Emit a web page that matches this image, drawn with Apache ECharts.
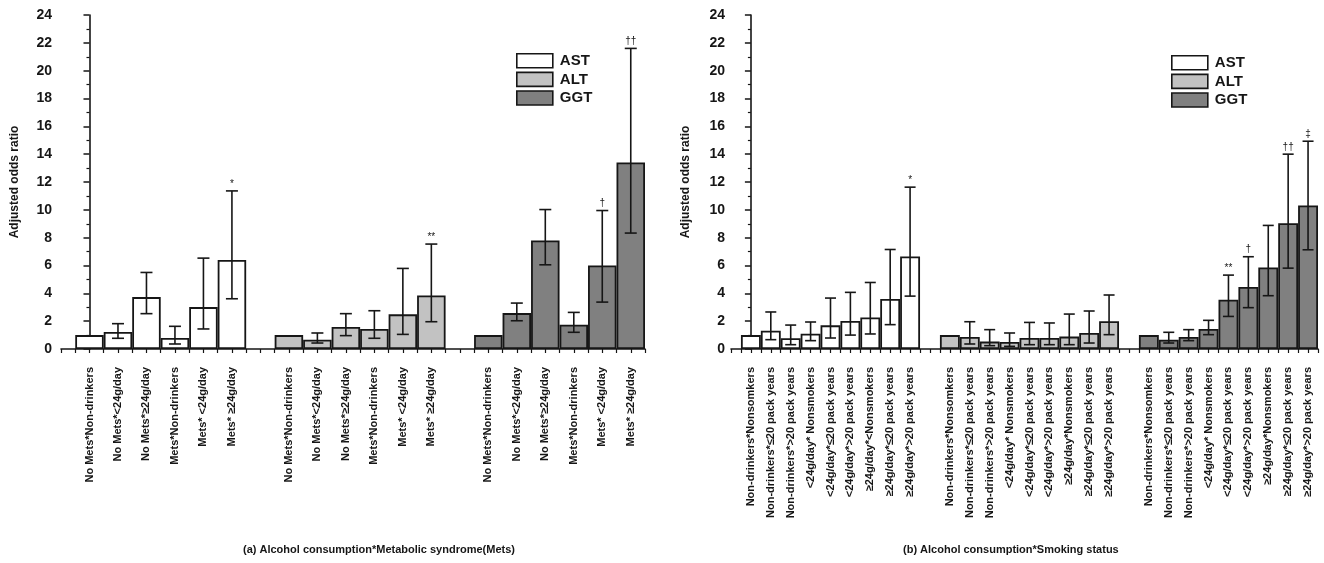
<!DOCTYPE html>
<html>
<head>
<meta charset="utf-8">
<script src="https://cdn.jsdelivr.net/npm/echarts@6/dist/echarts.min.js"></script>
<style>
html,body{margin:0;padding:0;background:#fff;}
#chart{width:1324px;height:563px;}
</style>
</head>
<body>
<div id="chart"></div>
<script>
// ---------- (a) Alcohol consumption * Metabolic syndrome ----------
const catsA = ['No Mets*Non-drinkers', 'No Mets*<24g/day', 'No Mets*\u226524g/day', 'Mets*Non-drinkers', 'Mets* <24g/day', 'Mets* \u226524g/day'];
const astA = [1.0, 1.22, 3.73, 0.79, 3.01, 6.39];
const astA_lo = [null, 0.77, 2.54, 0.36, 1.44, 3.61];
const astA_hi = [null, 1.82, 5.50, 1.63, 6.53, 11.36];
const astA_sig = ['', '', '', '', '', '*'];
const altA = [1.0, 0.67, 1.58, 1.44, 2.49, 3.85];
const altA_lo = [null, 0.43, 0.96, 0.77, 1.05, 1.96];
const altA_hi = [null, 1.15, 2.54, 2.75, 5.79, 7.54];
const altA_sig = ['', '', '', '', '', '**'];
const ggtA = [1.0, 2.58, 7.80, 1.75, 6.00, 13.40];
const ggtA_lo = [null, 2.03, 6.05, 1.20, 3.37, 8.33];
const ggtA_hi = [null, 3.30, 10.02, 2.63, 9.95, 21.60];
const ggtA_sig = ['', '', '', '', '\u2020', '\u2020\u2020'];

// ---------- (b) Alcohol consumption * Smoking status ----------
const catsB_AST = ['Non-drinkers*Nonsomkers', 'Non-drinkers*\u226420 pack years', 'Non-drinkers*>20 pack years', '<24g/day* Nonsmokers', '<24g/day*\u226420 pack years', '<24g/day*>20 pack years', '\u226524g/day*<Nonsmokers', '\u226524g/day*\u226420 pack years', '\u226524g/day*>20 pack years'];
const catsB = ['Non-drinkers*Nonsomkers', 'Non-drinkers*\u226420 pack years', 'Non-drinkers*>20 pack years', '<24g/day* Nonsmokers', '<24g/day*\u226420 pack years', '<24g/day*>20 pack years', '\u226524g/day*Nonsmokers', '\u226524g/day*\u226420 pack years', '\u226524g/day*>20 pack years'];
const astB = [1.0, 1.32, 0.77, 1.10, 1.70, 2.01, 2.27, 3.59, 6.65];
const astB_lo = [null, 0.67, 0.31, 0.60, 0.79, 1.00, 1.08, 1.75, 3.80];
const astB_hi = [null, 2.66, 1.72, 1.94, 3.66, 4.07, 4.78, 7.15, 11.63];
const astB_sig = ['', '', '', '', '', '', '', '', '*'];
const altB = [1.0, 0.86, 0.53, 0.50, 0.79, 0.79, 0.89, 1.15, 1.99];
const altB_lo = [null, 0.36, 0.24, 0.19, 0.31, 0.31, 0.31, 0.43, 1.03];
const altB_hi = [null, 1.96, 1.39, 1.15, 1.91, 1.87, 2.51, 2.73, 3.88];
const altB_sig = ['', '', '', '', '', '', '', '', ''];
const ggtB = [1.0, 0.67, 0.86, 1.44, 3.54, 4.45, 5.86, 9.04, 10.31];
const ggtB_lo = [null, 0.43, 0.60, 1.03, 2.34, 2.97, 3.83, 5.81, 7.13];
const ggtB_hi = [null, 1.20, 1.39, 2.06, 5.31, 6.63, 8.88, 14.00, 14.93];
const ggtB_sig = ['', '', '', '', '**', '\u2020', '', '\u2020\u2020', '\u2021'];

const yTicks = [0, 2, 4, 6, 8, 10, 12, 14, 16, 18, 20, 22, 24];

// ---------- layout ----------
const W = 1324, H = 563;
const gridA = {left: 61, right: W - 645, top: 15, bottom: H - 349};
const gridB = {left: 731, right: W - 1318, top: 15, bottom: H - 349};
const nA = astA.length, nB = astB.length;
const maxA = 3 * nA + 2 - 0.5;
const maxB = 3 * nB + 2 - 0.5;
const slotA = (645 - 61) / (maxA + 1);
const slotB = (1318 - 731) / (maxB + 1);

const FONT = '"Liberation Sans", Arial, Helvetica, sans-serif';
const INK = '#161616';
const colors = {AST: '#ffffff', ALT: '#c2c2c2', GGT: '#808080'};

function positions(n, g) { return Array.from({length: n}, (_, i) => g * (n + 1) + i); }

function labelMap(groups) {
  const m = {};
  groups.forEach((cats, g) => cats.forEach((c, i) => { m[g * (cats.length + 1) + i] = c; }));
  return m;
}
const mapA = labelMap([catsA, catsA, catsA]);
const mapB = labelMap([catsB_AST, catsB, catsB]);

function barData(vals, n, g) {
  const xs = positions(n, g);
  return vals.map((v, i) => [xs[i], v]);
}
function errList(lo, hi, sig, n, g) {
  const xs = positions(n, g);
  const out = [];
  lo.forEach((l, i) => { if (l !== null) out.push({x: xs[i], lo: l, hi: hi[i], sig: sig[i]}); });
  return out;
}

const errA = [].concat(errList(astA_lo, astA_hi, astA_sig, nA, 0), errList(altA_lo, altA_hi, altA_sig, nA, 1), errList(ggtA_lo, ggtA_hi, ggtA_sig, nA, 2));
const errB = [].concat(errList(astB_lo, astB_hi, astB_sig, nB, 0), errList(altB_lo, altB_hi, altB_sig, nB, 1), errList(ggtB_lo, ggtB_hi, ggtB_sig, nB, 2));

function errRenderer(list, capHalf) {
  return function (params, api) {
    const d = list[params.dataIndex];
    const top = api.coord([d.x, d.hi]);
    const bot = api.coord([d.x, d.lo]);
    const st = {stroke: INK, lineWidth: 1.6};
    const children = [
      {type: 'line', shape: {x1: top[0], y1: top[1], x2: bot[0], y2: bot[1]}, style: st},
      {type: 'line', shape: {x1: top[0] - capHalf, y1: top[1], x2: top[0] + capHalf, y2: top[1]}, style: st},
      {type: 'line', shape: {x1: bot[0] - capHalf, y1: bot[1], x2: bot[0] + capHalf, y2: bot[1]}, style: st}
    ];
    if (d.sig) {
      children.push({type: 'text', x: top[0], y: top[1] - 2,
        style: {text: d.sig, fill: INK, font: '10px ' + FONT, textAlign: 'center', textVerticalAlign: 'bottom'}});
    }
    return {type: 'group', children: children};
  };
}

function xAxis(gi, max, map) {
  return {
    type: 'value', gridIndex: gi, min: -1, max: max, interval: 0.5,
    splitLine: {show: false},
    axisLine: {lineStyle: {color: INK, width: 1.6}},
    axisTick: {length: 4, lineStyle: {color: INK, width: 1.2}},
    axisLabel: {
      rotate: 90, margin: 18, color: INK, fontSize: 11, fontWeight: 'bold', fontFamily: FONT,
      showMinLabel: true, showMaxLabel: true,
      formatter: function (v) {
        const i = Math.round(v);
        if (Math.abs(v - i) > 1e-6) return '';
        return map[i] || '';
      }
    }
  };
}
function yAxis(gi, gap, margin) {
  return {
    type: 'value', gridIndex: gi, min: yTicks[0], max: yTicks[yTicks.length - 1], interval: yTicks[1] - yTicks[0],
    name: 'Adjusted odds ratio', nameLocation: 'middle', nameGap: gap,
    nameTextStyle: {color: INK, fontSize: 12, fontWeight: 'bold', fontFamily: FONT},
    splitLine: {show: false},
    axisLine: {show: true, lineStyle: {color: INK, width: 1.6}},
    axisTick: {show: true, length: 6, lineStyle: {color: INK, width: 1.5}},
    minorTick: {show: true, splitNumber: 2, length: 3, lineStyle: {color: INK, width: 1.2}},
    axisLabel: {color: INK, fontSize: 14, fontWeight: 'bold', fontFamily: FONT, margin: margin}
  };
}

function bars(name, data, gi, bw) {
  return {
    name: name, type: 'bar', xAxisIndex: gi, yAxisIndex: gi, data: data,
    barWidth: bw, barGap: '-100%', silent: true, animation: false,
    itemStyle: {color: colors[name], borderColor: INK, borderWidth: 1.8}
  };
}

const legendBase = {
  data: ['AST', 'ALT', 'GGT'], orient: 'vertical', icon: 'rect',
  itemWidth: 36, itemHeight: 14, itemGap: 3, padding: 0, selectedMode: false,
  itemStyle: {borderColor: INK, borderWidth: 1.6},
  textStyle: {color: INK, fontSize: 15, fontWeight: 'bold', fontFamily: FONT, padding: [0, 0, 0, 2]}
};

const option = {
  animation: false,
  backgroundColor: '#fff',
  grid: [gridA, gridB],
  legend: [
    Object.assign({}, legendBase, {left: 516, top: 53}),
    Object.assign({}, legendBase, {left: 1171, top: 55})
  ],
  xAxis: [xAxis(0, maxA, mapA), xAxis(1, maxB, mapB)],
  yAxis: [yAxis(0, 40, 9), yAxis(1, 39, 6)],
  series: [
    bars('AST', barData(astA, nA, 0), 0, slotA),
    bars('ALT', barData(altA, nA, 1), 0, slotA),
    bars('GGT', barData(ggtA, nA, 2), 0, slotA),
    {type: 'custom', xAxisIndex: 0, yAxisIndex: 0, silent: true, z: 5,
     data: errA.map(d => [d.x, d.lo, d.hi]), encode: {x: 0, y: [1, 2]},
     renderItem: errRenderer(errA, 6)},
    bars('AST', barData(astB, nB, 0), 1, slotB),
    bars('ALT', barData(altB, nB, 1), 1, slotB),
    bars('GGT', barData(ggtB, nB, 2), 1, slotB),
    {type: 'custom', xAxisIndex: 1, yAxisIndex: 1, silent: true, z: 5,
     data: errB.map(d => [d.x, d.lo, d.hi]), encode: {x: 0, y: [1, 2]},
     renderItem: errRenderer(errB, 5.5)}
  ],
  graphic: [
    {type: 'text', left: 243, top: 544,
     style: {text: '(a) Alcohol consumption*Metabolic syndrome(Mets)', fill: INK, font: 'bold 11px ' + FONT}},
    {type: 'text', left: 903, top: 544,
     style: {text: '(b) Alcohol consumption*Smoking status', fill: INK, font: 'bold 11px ' + FONT}}
  ]
};

const chart = echarts.init(document.getElementById('chart'), null, {renderer: 'canvas'});
chart.setOption(option);
</script>
</body>
</html>
